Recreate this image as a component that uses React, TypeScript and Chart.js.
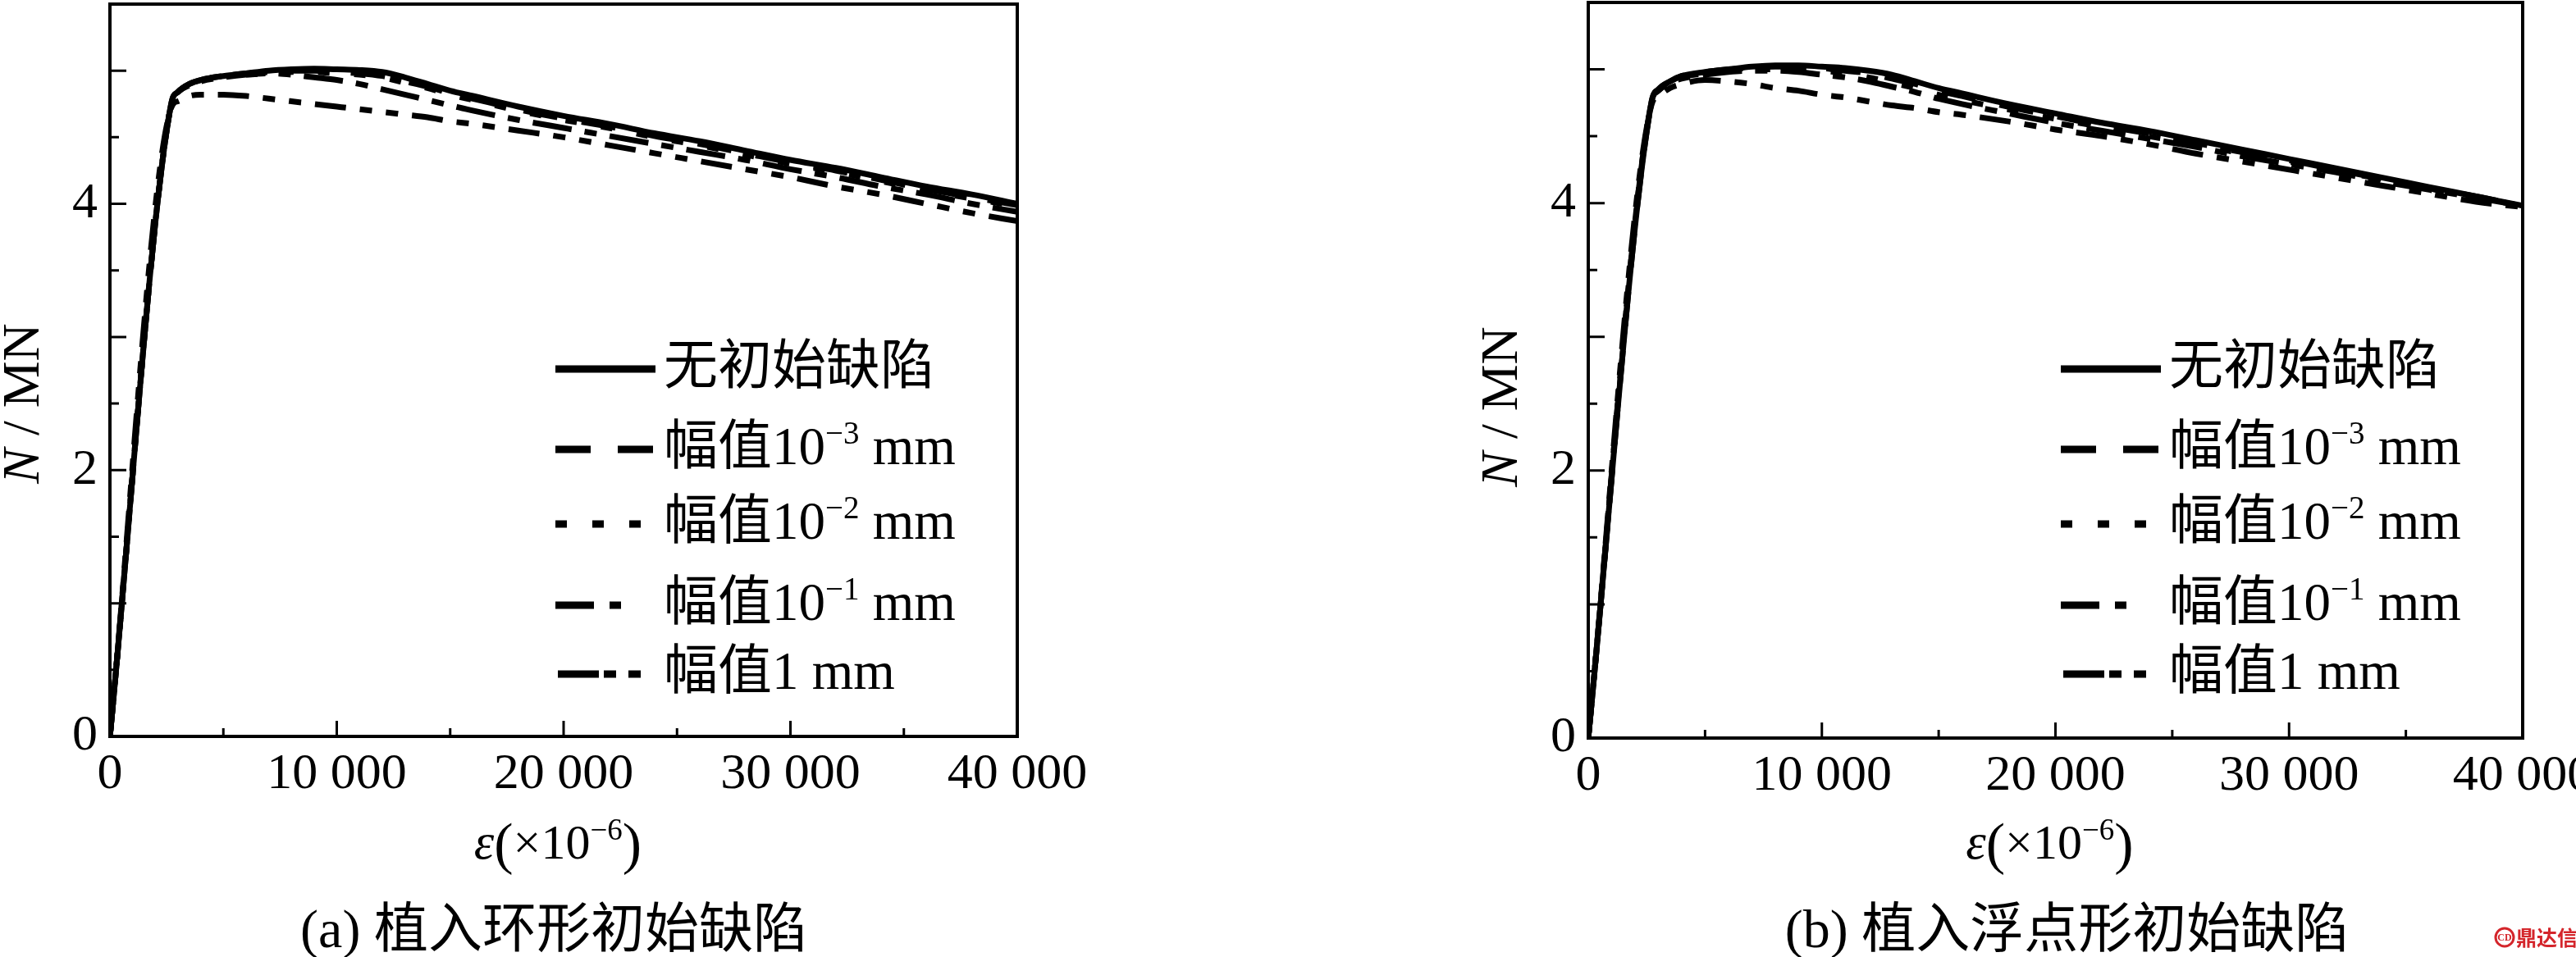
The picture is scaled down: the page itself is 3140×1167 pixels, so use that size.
import React, { useEffect, useRef } from 'react';
import { Chart, registerables } from 'chart.js';

Chart.register(...registerables);

// ---------- data ----------
const strain = [0, 2700, 3000, 3500, 4000, 5000, 6000, 7000, 8000, 9000, 10000, 11000, 12000, 13000, 14000, 15000, 16000, 18000, 20000, 22000, 24000, 26000, 28000, 30000, 32000, 34000, 36000, 38000, 40000];

// (a) ring-shaped initial imperfection
const solidA = [0, 4.75, 4.84, 4.90, 4.93, 4.96, 4.98, 5.00, 5.01, 5.015, 5.01, 5.005, 4.99, 4.95, 4.90, 4.85, 4.81, 4.73, 4.66, 4.60, 4.53, 4.47, 4.40, 4.33, 4.27, 4.20, 4.13, 4.07, 4.00];
const amp3A = [0, 4.75, 4.84, 4.90, 4.93, 4.96, 4.98, 4.99, 5.00, 5.00, 4.99, 4.98, 4.96, 4.92, 4.88, 4.83, 4.79, 4.71, 4.64, 4.58, 4.51, 4.45, 4.38, 4.31, 4.25, 4.18, 4.11, 4.05, 3.99];
const amp2A = [0, 4.75, 4.84, 4.90, 4.93, 4.96, 4.97, 4.98, 4.99, 4.99, 4.98, 4.97, 4.95, 4.91, 4.87, 4.82, 4.78, 4.70, 4.63, 4.57, 4.50, 4.44, 4.37, 4.30, 4.24, 4.17, 4.10, 4.04, 3.98];
const amp1A = [0, 4.75, 4.84, 4.89, 4.92, 4.95, 4.97, 4.98, 4.97, 4.95, 4.93, 4.90, 4.86, 4.82, 4.78, 4.74, 4.70, 4.63, 4.57, 4.51, 4.45, 4.39, 4.33, 4.26, 4.20, 4.13, 4.07, 4.00, 3.94];
const amp0A = [0, 4.72, 4.77, 4.81, 4.82, 4.82, 4.81, 4.79, 4.77, 4.75, 4.73, 4.71, 4.69, 4.67, 4.65, 4.62, 4.60, 4.55, 4.50, 4.44, 4.38, 4.32, 4.26, 4.20, 4.13, 4.07, 4.00, 3.93, 3.87];

// (b) floating-point initial imperfection
const solidB = [0, 4.75, 4.85, 4.91, 4.95, 4.98, 5.00, 5.02, 5.03, 5.03, 5.02, 5.01, 4.99, 4.96, 4.91, 4.86, 4.82, 4.74, 4.67, 4.60, 4.54, 4.47, 4.40, 4.33, 4.26, 4.19, 4.12, 4.05, 3.98];
const amp3B = [0, 4.75, 4.85, 4.91, 4.95, 4.98, 5.00, 5.01, 5.02, 5.02, 5.01, 4.99, 4.97, 4.93, 4.89, 4.84, 4.80, 4.72, 4.65, 4.58, 4.52, 4.45, 4.38, 4.32, 4.25, 4.18, 4.11, 4.05, 3.98];
const amp2B = [0, 4.75, 4.84, 4.90, 4.94, 4.97, 4.99, 5.00, 5.00, 5.00, 4.99, 4.97, 4.94, 4.90, 4.86, 4.81, 4.77, 4.70, 4.63, 4.57, 4.50, 4.44, 4.37, 4.31, 4.24, 4.18, 4.11, 4.04, 3.98];
const amp1B = [0, 4.75, 4.84, 4.90, 4.93, 4.96, 4.98, 4.99, 4.99, 4.98, 4.96, 4.94, 4.91, 4.87, 4.83, 4.78, 4.74, 4.67, 4.60, 4.54, 4.48, 4.42, 4.35, 4.29, 4.23, 4.16, 4.10, 4.04, 3.98];
const amp0B = [0, 4.73, 4.80, 4.86, 4.89, 4.92, 4.91, 4.89, 4.86, 4.84, 4.81, 4.79, 4.76, 4.73, 4.71, 4.68, 4.66, 4.61, 4.55, 4.50, 4.44, 4.37, 4.31, 4.25, 4.19, 4.13, 4.07, 4.01, 3.97];

const seriesNames = ['无初始缺陷', '幅值10⁻³ mm', '幅值10⁻² mm', '幅值10⁻¹ mm', '幅值1 mm'];
const legendCjk = ['无初始缺陷', '幅值', '幅值', '幅值', '幅值'];
const legendNum = ['', '10', '10', '10', '1'];
const legendSup = ['', '−3', '−2', '−1', ''];
const legendUnit = ['', ' mm', ' mm', ' mm', ' mm'];

const yLabelValues = [0, 2, 4];
const xLabelValues = [0, 10000, 20000, 30000, 40000];

const captionTags = ['(a) ', '(b) '];
const captionTexts = ['植入环形初始缺陷', '植入浮点形初始缺陷'];

// ---------- styles ----------
const SERIF = "'Liberation Serif', 'Times New Roman', serif";
const CJK = "'Noto Sans CJK SC', 'Noto Sans CJK JP', sans-serif";
const plotDash = [[], [42, 30], [14, 30], [48, 16, 15, 16], [38, 17, 15, 17, 15, 17]];
const legendDash = [[], [43, 33], [14, 31], [47, 19, 14, 300], [50, 6, 15, 15, 15, 300]];
const legendLen = [122, 119, 107, 80, 101];
const legendStart = [0, 0, 0, 0, 3];
const legendRowY = [450, 548, 639, 738, 822];

type Run = { t: string; f: string; dy?: number };

function drawRuns(ctx: CanvasRenderingContext2D, runs: Run[], x: number, y: number, align: 'left' | 'center') {
  ctx.textBaseline = 'alphabetic';
  ctx.textAlign = 'left';
  let w = 0;
  runs.forEach((r) => {
    ctx.font = r.f;
    w += ctx.measureText(r.t).width;
  });
  let cx = align === 'center' ? x - w / 2 : x;
  runs.forEach((r) => {
    ctx.font = r.f;
    ctx.fillText(r.t, cx, y + (r.dy || 0));
    cx += ctx.measureText(r.t).width;
  });
}

function makeDecor(p: any) {
  return {
    id: 'decor' + p.idx,
    afterDraw(chart: any) {
      const { ctx, chartArea: a, scales } = chart;
      const xs = scales.x;
      const ys = scales.y;
      ctx.save();
      ctx.fillStyle = '#000';
      ctx.strokeStyle = '#000';
      ctx.setLineDash([]);
      // inward ticks
      ctx.beginPath();
      xs.ticks.forEach((t: any) => {
        const px = xs.getPixelForValue(t.value);
        const len = t.value % 10000 === 0 ? 19 : 10;
        ctx.moveTo(px, a.bottom);
        ctx.lineTo(px, a.bottom - len);
      });
      ys.ticks.forEach((t: any) => {
        const py = ys.getPixelForValue(t.value);
        const len = Number.isInteger(t.value) ? 20 : 11;
        ctx.moveTo(a.left, py);
        ctx.lineTo(a.left + len, py);
      });
      ctx.lineWidth = 3;
      ctx.stroke();
      // frame
      ctx.lineWidth = 4;
      ctx.strokeRect(a.left, a.top, a.right - a.left, a.bottom - a.top);

      // legend
      for (let i = 0; i < 5; i++) {
        const ry = legendRowY[i];
        const x0 = a.right - 563 + legendStart[i];
        ctx.save();
        ctx.lineWidth = 9;
        ctx.lineCap = 'butt';
        ctx.setLineDash(legendDash[i]);
        ctx.beginPath();
        ctx.moveTo(x0, ry);
        ctx.lineTo(x0 + legendLen[i], ry);
        ctx.stroke();
        ctx.restore();
        const runs: Run[] = [{ t: legendCjk[i], f: `66px ${CJK}` }];
        if (legendNum[i]) runs.push({ t: legendNum[i], f: `65px ${SERIF}` });
        if (legendSup[i]) runs.push({ t: legendSup[i], f: `39px ${SERIF}`, dy: -25 });
        if (legendUnit[i]) runs.push({ t: legendUnit[i], f: `65px ${SERIF}` });
        drawRuns(ctx, runs, a.right - 431, ry + 18, 'left');
      }

      // y axis title (rotated)
      ctx.save();
      ctx.translate(a.left - 87, p.yTitleCy);
      ctx.rotate(-Math.PI / 2);
      drawRuns(ctx, [
        { t: 'N', f: `italic 64px ${SERIF}` },
        { t: ' / MN', f: `64px ${SERIF}` },
      ], 0, 0, 'center');
      ctx.restore();

      // x axis title
      const cx = (a.left + a.right) / 2 - 7;
      drawRuns(ctx, [
        { t: 'ε', f: `italic 62px ${SERIF}` },
        { t: '(', f: `70px ${SERIF}`, dy: 5 },
        { t: '×10', f: `60px ${SERIF}` },
        { t: '−6', f: `37px ${SERIF}`, dy: -23 },
        { t: ')', f: `70px ${SERIF}`, dy: 5 },
      ], cx, 1047, 'center');

      // caption
      drawRuns(ctx, [
        { t: captionTags[p.idx], f: `66px ${SERIF}` },
        { t: captionTexts[p.idx], f: `66px ${CJK}` },
      ], (a.left + a.right) / 2 + p.captionDx, 1155, 'center');

      // watermark
      if (p.watermark) {
        ctx.fillStyle = '#d4252b';
        ctx.strokeStyle = '#d4252b';
        ctx.lineWidth = 3;
        ctx.beginPath();
        ctx.arc(1483, 1143, 11, 0, Math.PI * 2);
        ctx.stroke();
        ctx.font = `bold 12px ${SERIF}`;
        ctx.textAlign = 'center';
        ctx.textBaseline = 'middle';
        ctx.fillText('CD', 1483, 1144);
        ctx.textAlign = 'left';
        ctx.textBaseline = 'alphabetic';
        ctx.font = `bold 25px ${CJK}`;
        ctx.fillText('鼎达信', 1497, 1153);
      }
      ctx.restore();
    },
  };
}

const panels = [
  {
    idx: 0, offset: 0, padding: { left: 0, right: 330, top: 5, bottom: 0 }, xH: 269,
    captionDx: -12, yTitleCy: 492, series: [solidA, amp3A, amp2A, amp1A, amp0A], watermark: false,
  },
  {
    idx: 1, offset: 1570, padding: { left: 232, right: 65, top: 3, bottom: 0 }, xH: 267,
    captionDx: 14, yTitleCy: 496, series: [solidB, amp3B, amp2B, amp1B, amp0B], watermark: true,
  },
];

function Panel({ p }: { p: any }) {
  const ref = useRef<HTMLCanvasElement>(null);
  useEffect(() => {
    if (!ref.current) return;
    const datasets = p.series.map((vals: number[], i: number) => ({
      label: seriesNames[i],
      data: strain.map((x, k) => ({ x, y: vals[k] })),
      borderColor: '#000',
      backgroundColor: '#000',
      borderWidth: 7,
      borderDash: plotDash[i],
      borderCapStyle: 'butt',
      pointRadius: 0,
      fill: false,
      cubicInterpolationMode: 'monotone',
    }));
    const tickFont = { family: SERIF, size: 62 };
    const chart = new Chart(ref.current, {
      type: 'line',
      data: { datasets },
      options: {
        animation: false,
        responsive: false,
        devicePixelRatio: 1,
        layout: { padding: p.padding },
        plugins: { legend: { display: false }, tooltip: { enabled: false }, title: { display: false } },
        scales: {
          x: {
            type: 'linear',
            min: 0,
            max: 40000,
            grid: { display: false, drawTicks: false },
            border: { display: false },
            ticks: {
              stepSize: 5000,
              autoSkip: false,
              maxRotation: 0,
              padding: 10,
              color: '#000',
              font: tickFont,
              callback: (v: any) => {
                const n = Number(v);
                if (!xLabelValues.includes(n)) return '';
                return n === 0 ? '0' : `${Math.floor(n / 1000)} 000`;
              },
            },
            afterFit: (s: any) => {
              s.height = p.xH;
              s.paddingLeft = 0;
              s.paddingRight = 0;
            },
          },
          y: {
            type: 'linear',
            min: 0,
            max: 5.5,
            grid: { display: false, drawTicks: false },
            border: { display: false },
            ticks: {
              stepSize: 0.5,
              autoSkip: false,
              padding: 15,
              color: '#000',
              font: tickFont,
              callback: (v: any) => {
                const n = Number(v);
                return yLabelValues.includes(n) ? String(n) : '';
              },
            },
            afterFit: (s: any) => {
              s.width = 134;
              s.paddingTop = 0;
              s.paddingBottom = 0;
            },
          },
        },
      } as any,
      plugins: [makeDecor(p)],
    });
    return () => chart.destroy();
  }, []);
  return (
    <canvas
      ref={ref}
      width={1570}
      height={1167}
      style={{ position: 'absolute', left: p.offset, top: 0, width: 1570, height: 1167 }}
    />
  );
}

export default function App() {
  useEffect(() => {
    document.body.style.margin = '0';
    document.body.style.background = '#fff';
  }, []);
  return (
    <div style={{ position: 'absolute', left: 0, top: 0, width: 3140, height: 1167, background: '#fff', overflow: 'hidden' }}>
      {panels.map((p) => (
        <Panel key={p.idx} p={p} />
      ))}
    </div>
  );
}
